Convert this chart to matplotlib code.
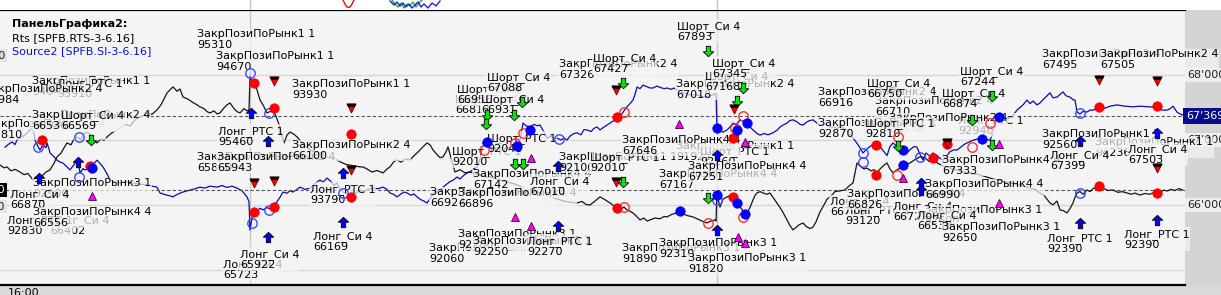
import matplotlib
matplotlib.use("Agg")
import matplotlib.pyplot as plt
from matplotlib.path import Path
from matplotlib.patches import Rectangle
import matplotlib.transforms as mtransforms

plt.rcParams['font.family'] = ['DejaVu Sans']

# ---------------- data (time position, price) ----------------
rts_series = [
    (0, 93105), (4, 93030), (7, 93055), (11, 92950), (15, 92990), (20, 92920), (24, 92850), (28, 92880),
    (33, 92710), (37, 92790), (42, 92815), (46, 92920), (50, 92975), (54, 93150), (57, 93320), (61, 93420),
    (64, 93560), (67, 93690), (71, 93640), (74, 93800), (77, 93850), (81, 93780), (84, 93930), (87, 93980),
    (91, 93900), (94, 93760), (97, 93690), (101, 93800), (104, 93760), (107, 93850), (112, 93960), (116, 94020),
    (120, 94085), (125, 94180), (130, 94140), (135, 94300), (140, 94380), (144, 94430), (147, 94485), (152, 94450),
    (157, 94565), (161, 94700), (164, 94860), (167, 95015), (170, 95100), (173, 95175), (177, 95060), (180, 95120),
    (183, 94910), (188, 94850), (193, 94760), (197, 94700), (200, 94645), (204, 94600), (207, 94520), (210, 94485),
    (214, 94540), (217, 94460), (220, 94485), (224, 94620), (227, 94700), (230, 94750), (234, 94600), (237, 94520),
    (240, 94485), (244, 94600), (247, 94540), (249, 94565), (250, 95440), (252, 95330), (254, 95280), (257, 95100),
    (260, 94830), (263, 94700), (267, 94485), (270, 94520), (273, 94565), (276, 94400), (278, 94250), (280, 94115),
    (282, 93850), (284, 93690), (287, 93900), (290, 93980), (294, 93920), (297, 93850), (302, 93700), (306, 93600),
    (310, 93505), (315, 93450), (320, 93380), (325, 93330), (330, 93290), (336, 93250), (341, 93180), (346, 93120),
    (350, 93100), (355, 93080), (360, 93055), (363, 93055), (367, 93000), (372, 92920), (377, 92960), (383, 92895),
    (387, 93000), (390, 93055), (394, 93200), (397, 93240), (401, 93180), (405, 93260), (410, 93240), (414, 93350),
    (418, 93450), (422, 93560), (427, 93690), (430, 93640), (433, 93505), (437, 93380), (440, 93300), (443, 93320),
    (446, 93450), (448, 93585), (452, 93200), (455, 92920), (460, 92980), (465, 92900), (470, 92920), (478, 92850),
    (485, 92800), (492, 92780), (500, 92710), (508, 92650), (515, 92600), (522, 92520), (530, 92445), (538, 92380),
    (545, 92320), (552, 92250), (560, 92180), (565, 92140), (570, 92120), (577, 92100), (582, 92140), (586, 92060),
    (590, 92045), (595, 92150), (600, 92260), (604, 92200), (607, 92150), (610, 92100), (614, 92020), (617, 91965),
    (621, 91940), (624, 91990), (627, 91915), (630, 91880), (633, 91835), (636, 91760), (640, 91650), (644, 91700),
    (647, 91620), (650, 91650), (655, 91700), (660, 91680), (664, 91740), (667, 91730), (672, 91800), (676, 91830),
    (680, 91860), (684, 91800), (688, 91760), (693, 91730), (697, 91680), (702, 91620), (707, 91570), (711, 91620),
    (715, 91650), (716, 91620), (717, 92365), (719, 92100), (720, 91990), (723, 92200), (727, 92260), (730, 92300),
    (733, 92260), (736, 92100), (740, 91990), (743, 91900), (747, 91835), (750, 91980), (753, 92180), (755, 92300),
    (757, 92365), (760, 92400), (763, 92365), (767, 92330), (770, 92365), (773, 92250), (777, 92100), (780, 91980),
    (783, 91850), (787, 91650), (790, 91500), (793, 91385), (796, 91450), (799, 91520), (803, 91570), (806, 91480),
    (810, 91420), (813, 91460), (816, 91600), (820, 91860), (824, 92050), (827, 92200), (830, 92260), (835, 92400),
    (840, 92420), (845, 92445), (849, 92550), (853, 92630), (855, 92900), (857, 93160), (860, 93080), (864, 93000),
    (867, 93025), (871, 92950), (874, 92980), (877, 92895), (880, 93000), (884, 93100), (887, 93160), (890, 93000),
    (893, 92895), (896, 92960), (900, 93025), (905, 93100), (910, 93160), (915, 93250), (920, 93320), (925, 93300),
    (929, 93200), (933, 93240), (938, 93150), (943, 93080), (948, 93050), (953, 93000), (958, 92960), (963, 92920),
    (968, 92900), (973, 92870), (978, 92860), (985, 92800), (990, 92760), (995, 92720), (1000, 92700), (1005, 92650),
    (1010, 92630), (1018, 92580), (1025, 92540), (1030, 92495), (1035, 92460), (1040, 92365), (1044, 92300),
    (1047, 92200), (1050, 92100), (1053, 92050), (1057, 92150), (1060, 91915), (1063, 91900), (1067, 91835),
    (1070, 91950), (1073, 92100), (1075, 92250), (1077, 92365), (1080, 92400), (1083, 92330), (1087, 92445),
    (1090, 92400), (1094, 92500), (1097, 92450), (1100, 92525), (1104, 92480), (1108, 92430), (1113, 92445),
    (1118, 92380), (1122, 92400), (1127, 92365), (1131, 92330), (1135, 92360), (1140, 92310), (1145, 92350),
    (1150, 92330), (1154, 92380), (1157, 92365), (1161, 92400), (1164, 92440), (1167, 92415), (1171, 92460),
    (1175, 92430), (1179, 92480), (1183, 92440),
]

si_series = [
    (5, 66890), (9, 66940), (12, 66970), (15, 66930), (17, 67000), (20, 67030), (22, 67045), (25, 67080),
    (27, 67110), (30, 67150), (32, 67200), (34, 67100), (35, 67000), (38, 66900), (40, 66845), (42, 66900),
    (44, 66910), (46, 66880), (47, 66955), (49, 66860), (50, 66800), (53, 66760), (57, 66690), (60, 66660),
    (63, 66645), (66, 66600), (70, 66540), (73, 66600), (77, 66690), (79, 66600), (80, 66490), (83, 66560),
    (85, 66540), (88, 66560), (90, 66540), (93, 66620), (97, 66690), (100, 66640), (103, 66585), (107, 66480),
    (110, 66385), (115, 66360), (120, 66340), (126, 66360), (133, 66340), (140, 66320), (147, 66310), (152, 66290),
    (157, 66275), (160, 66185), (165, 66160), (170, 66140), (173, 66125), (178, 66170), (183, 66200), (190, 66230),
    (195, 66250), (200, 66275), (205, 66260), (210, 66290), (217, 66275), (222, 66300), (227, 66270), (232, 66290),
    (237, 66260), (242, 66220), (247, 66125), (249, 66050), (250, 65615), (252, 65800), (253, 65875), (257, 65900),
    (260, 65950), (263, 65925), (267, 65960), (270, 65940), (273, 65970), (277, 66050), (280, 66120), (283, 66200),
    (287, 66180), (290, 66220), (293, 66200), (297, 66240), (300, 66275), (305, 66240), (310, 66260), (315, 66330),
    (320, 66385), (323, 66350), (327, 66415), (331, 66360), (334, 66300), (337, 66340), (340, 66250), (343, 66200),
    (347, 66170), (350, 66140), (353, 66155), (357, 66190), (360, 66230), (363, 66200), (368, 66240), (373, 66260),
    (378, 66250), (383, 66275), (387, 66240), (390, 66185), (394, 66160), (397, 66125), (401, 66170), (404, 66200),
    (407, 66185), (411, 66150), (414, 66170), (417, 66125), (421, 66080), (424, 66060), (427, 66030), (431, 66120),
    (435, 66200), (440, 66230), (445, 66300), (450, 66360), (453, 66380), (457, 66430), (460, 66400), (464, 66460),
    (467, 66490), (471, 66520), (474, 66560), (477, 66585), (480, 66700), (483, 66955), (486, 66900), (490, 66845),
    (494, 66900), (497, 66940), (500, 66955), (503, 66900), (507, 66870), (510, 66845), (514, 66900), (517, 66910),
    (520, 67000), (523, 67260), (526, 67220), (530, 67200), (534, 67240), (537, 67220), (540, 67230), (543, 67150),
    (547, 67030), (551, 67060), (554, 67020), (557, 67030), (561, 67000), (564, 67030), (567, 67000), (570, 67060),
    (574, 67100), (577, 67110), (581, 67080), (584, 67160), (587, 67155), (591, 67130), (594, 67180), (597, 67200),
    (600, 67155), (604, 67200), (607, 67230), (610, 67260), (614, 67300), (617, 67340), (621, 67380), (624, 67450),
    (627, 67510), (630, 67560), (633, 67615), (635, 67700), (637, 67815), (640, 67790), (643, 67845), (647, 67820),
    (650, 67800), (653, 67800), (657, 67830), (660, 67810), (664, 67790), (667, 67800), (671, 67780), (674, 67800),
    (677, 67770), (680, 67740), (685, 67720), (690, 67690), (695, 67700), (700, 67680), (705, 67660), (710, 67680),
    (714, 67700), (716, 67725), (717, 67155), (720, 67155), (723, 67120), (727, 67155), (730, 67200), (733, 67260),
    (736, 67230), (740, 67310), (743, 67290), (747, 67275), (750, 67200), (753, 67155), (757, 67100), (760, 67075),
    (764, 67100), (768, 67080), (773, 67110), (777, 67150), (780, 67200), (783, 67230), (787, 67260), (790, 67300),
    (793, 67310), (797, 67280), (800, 67240), (803, 67230), (807, 67280), (810, 67300), (813, 67310), (817, 67260),
    (820, 67230), (825, 67250), (830, 67200), (833, 67200), (837, 67180), (841, 67200), (844, 67170), (847, 67155),
    (850, 67080), (853, 67030), (857, 66950), (860, 66880), (863, 66800), (866, 66850), (870, 66900), (873, 66930),
    (877, 66955), (880, 66900), (884, 66820), (887, 66760), (890, 66900), (893, 66955), (897, 66900), (900, 66890),
    (904, 66850), (907, 66800), (910, 66850), (914, 66900), (917, 66890), (920, 66780), (923, 66690), (926, 66800),
    (930, 66750), (933, 66800), (937, 66760), (940, 66720), (943, 66690), (947, 66760), (950, 66820), (954, 66850),
    (957, 66845), (960, 66880), (964, 66930), (967, 66955), (972, 66990), (976, 67010), (980, 67030), (985, 67000),
    (990, 67000), (993, 67100), (997, 67340), (1000, 67330), (1003, 67355), (1007, 67320), (1010, 67340),
    (1013, 67380), (1017, 67460), (1020, 67500), (1023, 67540), (1027, 67615), (1030, 67560), (1033, 67600),
    (1037, 67540), (1040, 67570), (1043, 67620), (1047, 67680), (1050, 67725), (1053, 67650), (1057, 67660),
    (1060, 67700), (1063, 67740), (1066, 67680), (1070, 67660), (1073, 67620), (1075, 67615), (1077, 67430),
    (1080, 67400), (1083, 67440), (1087, 67430), (1090, 67460), (1093, 67460), (1097, 67480), (1100, 67510),
    (1105, 67490), (1110, 67520), (1117, 67540), (1125, 67520), (1133, 67510), (1140, 67520), (1150, 67510),
    (1157, 67500), (1162, 67460), (1167, 67460), (1170, 67480), (1173, 67520), (1177, 67430), (1180, 67400),
    (1183, 67385),
]

si_last = 67369
rts_last = 92440
si_grid = [68000, 67000, 66000, 65000]
si_axis_labels = [(68000, "68'000"), (67000, "67'000"), (66000, "66'000")]
rts_axis_labels = [(96000, "96'000"), (92000, "92'000")]
session_breaks = [250, 717]
time_label = "16:00"

# trade markers (time, level on the Si price scale)
red_dots = [(42, 67000), (90, 66600), (254, 67875), (274, 67490), (351, 67090), (351, 66125), (254, 65890),
            (274, 65970), (617, 67355), (617, 65955), (733, 67030), (733, 66125), (876, 66925), (876, 66460),
            (933, 66725), (947, 66940), (1099, 67510), (1157, 67525), (1099, 66290), (1157, 66185)]
blue_dots = [(92, 66570), (487, 66970), (517, 66910), (530, 67155), (717, 67185), (737, 67155), (747, 67260),
             (717, 66155), (737, 66030), (745, 65860), (680, 65910), (903, 66845), (903, 66615), (982, 67015),
             (999, 67355)]
red_rings = [(484, 66845), (515, 66955), (523, 67110), (624, 67430), (624, 65970), (743, 67370), (735, 67185),
             (708, 65725), (743, 65815), (897, 66460), (898, 67045), (990, 67260), (972, 66890)]
blue_rings = [(38, 66890), (79, 67045), (79, 66430), (250, 68030), (269, 67415), (252, 65725), (269, 65925),
              (343, 66185), (559, 67015), (717, 66075), (863, 66800), (863, 66660), (1080, 67415), (1080, 66185),
              (920, 66740)]
long_arrows = [(39, 66415), (78, 66660), (251, 67415), (268, 66985), (268, 65510), (343, 66490), (343, 65740),
               (558, 66600), (558, 65675), (717, 65615), (717, 66770), (1080, 66985), (1157, 67110), (1080, 65725),
               (1157, 65770), (921, 66340), (921, 66230)]
exit_marks = [(274, 67910), (254, 66340), (274, 66370), (351, 67490), (351, 66540), (616, 67770), (616, 66355),
              (734, 67475), (1099, 67925), (1157, 67910), (947, 66955), (1157, 66570)]
short_arrows = [(487, 67385), (486, 67245), (514, 67385), (522, 67585), (623, 67875), (515, 66630), (523, 66630),
                (623, 66355), (708, 68370), (743, 67800), (737, 67600), (708, 66110), (898, 66910), (992, 67675),
                (972, 67310), (992, 66925), (91, 67000)]
close_marks = [(92, 66140), (531, 66725), (515, 65815), (531, 65675), (679, 67245), (745, 66970), (738, 65510),
               (745, 65415), (999, 66940), (903, 66415), (999, 66030)]

# trade labels (time, level on Si scale, text) - drawn in order, later ones on top
trade_labels = [
    (32, 67825, "ЗакрПозиПоРынк1 1\n94040"),
    (57, 67790, "Лонг_РТС 1\n93910"),
    (-16, 67700, "ЗакрПозиПоРынк2 4\n66984"),
    (-13, 67160, "ЗакрПозиПоРынк2 4\n65810"),
    (32, 67300, "ЗакрПозиПоРынк2 4\n66536"),
    (61, 67300, "Шорт_Си 4\n66569"),
    (33, 66255, "ЗакрПозиПоРынк3 1\n92900"),
    (10, 66085, "Лонг_Си 4\n66870"),
    (50, 65685, "Лонг_Си 4\n66402"),
    (7, 65685, "Лонг_РТС 1\n92830"),
    (33, 65810, "ЗакрПозиПоРынк4 4\n66556"),
    (197, 68545, "ЗакрПозиПоРынк1 1\n95310"),
    (216, 68210, "ЗакрПозиПоРынк1 1\n94670"),
    (218, 67055, "Лонг_РТС 1\n95460"),
    (197, 66655, "ЗакрПозиПоРынк2 4\n65860"),
    (217, 66655, "ЗакрПозиПоРынк2 4\n65943"),
    (223, 65010, "Лонг_Си 4\n65723"),
    (240, 65160, "Лонг_Си 4\n65922"),
    (292, 67775, "ЗакрПозиПоРынк1 1\n93930"),
    (292, 66840, "ЗакрПозиПоРынк2 4\n66100"),
    (310, 66160, "Лонг_РТС 1\n93790"),
    (313, 65440, "Лонг_Си 4\n66169"),
    (429, 65255, "ЗакрПозиПоРынк3 1\n92060"),
    (430, 66115, "ЗакрПозиПоРынк4 4\n66924"),
    (452, 66745, "Шорт_РТС 1\n92010"),
    (455, 67545, "Шорт_Си 4\n66817"),
    (457, 67700, "Шорт_Си 4\n66956"),
    (481, 67545, "Шорт_Си 4\n66931"),
    (487, 67885, "Шорт_Си 4\n67088"),
    (487, 66945, "Шорт_РТС 1\n92040"),
    (473, 66390, "ЗакрПозиПоРынк4 4\n67142"),
    (458, 66100, "ЗакрПозиПоРынк4 4\n66896"),
    (530, 66285, "Лонг_Си 4\n67010"),
    (458, 65470, "ЗакрПозиПоРынк3 1\n92200"),
    (473, 65360, "ЗакрПозиПоРынк3 1\n92250"),
    (527, 65360, "Лонг_РТС 1\n92270"),
    (559, 68085, "ЗакрПозиПоРынк2 4\n67326"),
    (593, 68175, "Шорт_Си 4\n67427"),
    (559, 66655, "ЗакрПозиПоРынк1 1\n92100"),
    (590, 66655, "Шорт_РТС 1\n92010"),
    (676, 66825, "ЗакрПозиПоРынк1 1\n91922"),
    (700, 66745, "Шорт_РТС 1\n92260"),
    (622, 66915, "ЗакрПозиПоРынк4 4\n67646"),
    (622, 65255, "ЗакрПозиПоРынк3 1\n91890"),
    (659, 65330, "ЗакрПозиПоРынк3 1\n92310"),
    (688, 65100, "ЗакрПозиПоРынк3 1\n91820"),
    (659, 66390, "ЗакрПозиПоРынк4 4\n67167"),
    (688, 66515, "ЗакрПозиПоРынк4 4\n67251"),
    (676, 67775, "ЗакрПозиПоРынк2 4\n67018"),
    (705, 67900, "Шорт_Си 4\n67168"),
    (712, 68100, "Шорт_Си 4\n67345"),
    (677, 68670, "Шорт_Си 4\n67893"),
    (818, 67655, "ЗакрПозиПоРынк2 4\n66916"),
    (875, 67515, "ЗакрПозиПоРынк2 4\n66710"),
    (867, 67790, "Шорт_Си 4\n66750"),
    (958, 67225, "Лонг_РТС 1\n92940"),
    (889, 67255, "ЗакрПозиПоРынк2 4\n66538"),
    (818, 67175, "ЗакрПозиПоРынк1 1\n92870"),
    (865, 67175, "Шорт_РТС 1\n92810"),
    (960, 67975, "Шорт_Си 4\n67244"),
    (942, 67640, "Шорт_Си 4\n66874"),
    (830, 65975, "Лонг_Си 4\n66776"),
    (845, 65840, "Лонг_РТС 1\n93120"),
    (847, 66085, "ЗакрПозиПоРынк4 4\n66826"),
    (893, 65900, "Лонг_Си 4\n66722"),
    (942, 66610, "ЗакрПозиПоРынк4 4\n67333"),
    (925, 66240, "ЗакрПозиПоРынк4 4\n66990"),
    (924, 65840, "ЗакрПозиПоРынк3 1\n92600"),
    (917, 65760, "Лонг_Си 4\n66539"),
    (942, 65575, "ЗакрПозиПоРынк3 1\n92650"),
    (1042, 68240, "ЗакрПозиПоРынк2 4\n67495"),
    (1100, 68240, "ЗакрПозиПоРынк2 4\n67505"),
    (1095, 66885, "ЗакрПозиПоРынк1 1\n94236"),
    (1042, 67010, "ЗакрПозиПоРынк1 1\n92560"),
    (1050, 66685, "Лонг_Си 4\n67399"),
    (1128, 66775, "Лонг_Си 4\n67503"),
    (1047, 65410, "Лонг_РТС 1\n92390"),
    (1124, 65470, "Лонг_РТС 1\n92390"),
]

# tiny part of the upper indicator panel
upper_red = [(343, 10), (345, 6), (347, 3), (349, 2.5), (351, 4), (353, 8), (354, 10)]
upper_green = [(392, 10), (395, 6), (398, 3), (401, 7), (404, 2), (407, 6), (410, 4), (413, 8), (416, 3),
               (419, 7), (422, 10)]
upper_blue = [(390, 9), (394, 5), (397, 8), (400, 4), (403, 7), (406, 3), (409, 6), (412, 2), (415, 5),
              (418, 8), (421, 3), (424, 6), (428, 2), (432, 7), (436, 4), (440, 9)]

header_title = "ПанельГрафика2:"
header_rts = "Rts [SPFB.RTS-3-6.16]"
header_si = "Source2 [SPFB.SI-3-6.16]"

# ---------------- layout ----------------
W, H = 1221, 295
fig = plt.figure(figsize=(W / 100, H / 100), dpi=100)
fig.patch.set_facecolor('white')

PLOT_W = 1185
TOP, BOT = 10, 285
SI_HI = 69000
SI_LO = SI_HI - (BOT - TOP) / 65.0 * 1000
RTS_HI = 92390 + 182 * 26.5
RTS_LO = 92390 - 93 * 26.5

rect = [0, 1 - BOT / H, PLOT_W / W, (BOT - TOP) / H]
ax = fig.add_axes(rect)
ax.set_facecolor('#f4f4f4')
ax.set_xlim(0, PLOT_W)
ax.set_ylim(SI_LO, SI_HI)
ax2 = fig.add_axes(rect, sharex=ax)
ax2.set_facecolor('none')
ax2.set_ylim(RTS_LO, RTS_HI)
ax3 = fig.add_axes(rect, sharex=ax)
ax3.set_facecolor('none')
ax3.set_ylim(SI_LO, SI_HI)
for a in (ax, ax2, ax3):
    a.set_xticks([]); a.set_yticks([])
    for s in a.spines.values():
        s.set_visible(False)
ax.spines['top'].set_visible(True)
ax.spines['bottom'].set_visible(True)
ax.spines['top'].set_linewidth(1.6)
ax.spines['bottom'].set_linewidth(1.6)

# upper panel strip
axu = fig.add_axes([0, 1 - TOP / H, 1, TOP / H])
axu.set_xlim(0, W); axu.set_ylim(0, 10)
axu.set_xticks([]); axu.set_yticks([])
for s in axu.spines.values():
    s.set_visible(False)
for sb in session_breaks:
    axu.axvline(sb, color='#c8c8c8', lw=1)
axu.plot(*zip(*upper_red), color='#e01010', lw=1)
axu.plot(*zip(*upper_green), color='#20b020', lw=1)
axu.plot(*zip(*upper_blue), color='#2020e0', lw=1)

# grid and session breaks
for g in si_grid:
    ax.axhline(g, color='#d6d6d6', lw=1, zorder=0)
for sb in session_breaks:
    ax.axvline(sb, color='#c8c8c8', lw=1, zorder=0)

# last-price dashed lines
ax.axhline(si_last, color='#555555', lw=0.8, ls=(0, (3, 2)), zorder=1)
ax2.axhline(rts_last, color='#555555', lw=0.8, ls=(0, (3, 2)), zorder=1)

# series
st, sv = zip(*si_series)
ax.plot(st, sv, color='#0c0ca8', lw=0.9, zorder=2)
rt, rv = zip(*rts_series)
ax2.plot(rt, rv, color='#151515', lw=0.9, zorder=2)

# labels
for t, lvl, txt in trade_labels:
    ax3.text(t, lvl, txt, fontsize=8, va='center', ha='left', color='black', linespacing=1.05,
             bbox=dict(boxstyle='square,pad=0.05', fc='#f4f4f4', ec='none', alpha=0.72), zorder=3, clip_on=False)

# marker shapes
up_arrow = Path([(0, 1), (1, 0.05), (0.42, 0.05), (0.42, -1), (-0.42, -1), (-0.42, 0.05), (-1, 0.05), (0, 1)],
                closed=True)
down_arrow = Path([(0, -1), (1, -0.05), (0.42, -0.05), (0.42, 1), (-0.42, 1), (-0.42, -0.05), (-1, -0.05), (0, -1)],
                  closed=True)
tri_down = Path([(-1, 1), (1, 1), (0, -1), (-1, 1)], closed=True)
tri_top = Path([(-1, 1), (1, 1), (0.72, 0.45), (-0.72, 0.45), (-1, 1)], closed=True)


def pts(lst):
    return [p[0] for p in lst], [p[1] for p in lst]


x, y = pts(red_rings)
ax3.plot(x, y, ls='none', marker='o', ms=6.8, mfc='none', mec='#ff3030', mew=1.0, zorder=4)
x, y = pts(blue_rings)
ax3.plot(x, y, ls='none', marker='o', ms=6.8, mfc='none', mec='#3a4cff', mew=1.0, zorder=4)
x, y = pts(red_dots)
ax3.plot(x, y, ls='none', marker='o', ms=6.8, mfc='#ff0000', mec='#ff0000', mew=0.5, zorder=5)
x, y = pts(blue_dots)
ax3.plot(x, y, ls='none', marker='o', ms=6.8, mfc='#0000ff', mec='#0000ff', mew=0.5, zorder=5)
x, y = pts(long_arrows)
ax3.plot(x, y, ls='none', marker=up_arrow, ms=7.5, mfc='#0000ff', mec='black', mew=0.6, zorder=6)
x, y = pts(short_arrows)
ax3.plot(x, y, ls='none', marker=down_arrow, ms=7.5, mfc='#10e010', mec='black', mew=0.6, zorder=6)
x, y = pts(exit_marks)
ax3.plot(x, y, ls='none', marker=tri_down, ms=6.5, mfc='#ff0000', mec='#700000', mew=0.6, zorder=6)
ax3.plot(x, y, ls='none', marker=tri_top, ms=6.5, mfc='black', mec='black', mew=0.4, zorder=7)
x, y = pts(close_marks)
ax3.plot(x, y, ls='none', marker='^', ms=5.5, mfc='#ff00ff', mec='#400040', mew=0.6, zorder=6)

# right price axis strip
fig.patches.append(Rectangle((PLOT_W / W, 0), 1 - PLOT_W / W, 1 - TOP / H, transform=fig.transFigure,
                             fc='#d4d4d4', ec='none', zorder=-5))
# bottom time strip
fig.patches.append(Rectangle((0, 0), 1, 1 - BOT / H, transform=fig.transFigure,
                             fc='#d9d9d9', ec='none', zorder=-5))

trans_r = mtransforms.blended_transform_factory(fig.transFigure, ax.transData)
for lvl, txt in si_axis_labels:
    ax.text((PLOT_W + 2) / W, lvl, txt, transform=trans_r, fontsize=8, va='center', ha='left',
            color='#202020', clip_on=False,
            bbox=dict(boxstyle='square,pad=0.15', fc='#eeeeee', ec='none'))
ax3.text((PLOT_W + 1) / W, si_last, "67'369", transform=trans_r, fontsize=8, va='center', ha='left',
         color='white', clip_on=False, zorder=10,
         bbox=dict(boxstyle='square,pad=0.25', fc='#0a0a8c', ec='none'))

trans_l = mtransforms.blended_transform_factory(fig.transFigure, ax2.transData)
for lvl, txt in rts_axis_labels:
    ax2.text(5 / W, lvl, txt, transform=trans_l, fontsize=8, va='center', ha='right', color='#202020',
             clip_on=False, bbox=dict(boxstyle='square,pad=0.15', fc='#e4e4e4', ec='none'))
ax2.text(5 / W, rts_last, "92'440", transform=trans_l, fontsize=8, va='center', ha='right', color='white',
         clip_on=False, bbox=dict(boxstyle='square,pad=0.2', fc='black', ec='none'))

fig.text(8 / W, 1 - 288 / H, time_label, fontsize=8, va='top', ha='left', color='black')

# header legend
fig.text(12 / W, 1 - 24 / H, header_title, fontsize=8, fontweight='bold', va='center', ha='left', color='black')
fig.text(12 / W, 1 - 38 / H, header_rts, fontsize=8, va='center', ha='left', color='black')
fig.text(12 / W, 1 - 51 / H, header_si, fontsize=8, va='center', ha='left', color='#1010c8')

fig.savefig('out.png', dpi=100, facecolor=fig.get_facecolor())
